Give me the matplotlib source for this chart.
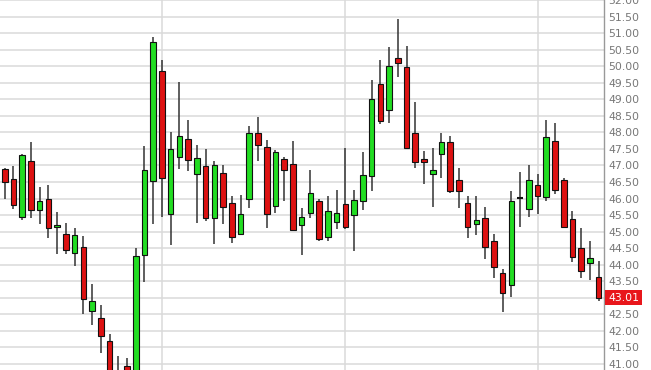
import matplotlib
matplotlib.use("Agg")
import matplotlib.pyplot as plt
import numpy as np

# daily OHLC
opens = [46.89, 46.59, 45.44, 47.14, 45.64, 46.00, 45.14, 44.92, 44.36, 44.54,
         42.59, 42.40, 41.69, 40.70, 40.94, 40.75, 44.29, 46.52, 49.84, 45.54,
         47.27, 47.80, 46.75, 46.99, 45.40, 46.77, 45.88, 44.92, 46.00, 47.97,
         47.57, 45.77, 47.19, 47.04, 45.19, 45.55, 45.94, 44.85, 45.29, 45.84,
         45.49, 45.94, 46.69, 49.47, 48.67, 50.25, 49.99, 47.97, 47.19, 46.74,
         47.34, 47.70, 46.55, 45.87, 45.22, 45.40, 44.72, 43.74, 43.39, 46.02,
         45.67, 46.40, 46.05, 47.74, 46.56, 45.39, 44.50, 44.05, 43.62]
highs = [46.92, 46.99, 47.35, 47.72, 46.34, 46.40, 45.59, 45.26, 45.12, 44.86,
         43.42, 42.77, 41.92, 41.24, 41.17, 44.50, 47.59, 50.89, 50.20, 48.00,
         49.52, 48.37, 47.62, 47.50, 47.15, 47.00, 46.08, 46.12, 48.20, 48.47,
         47.77, 47.47, 47.25, 47.75, 45.72, 46.87, 45.98, 46.07, 46.27, 47.52,
         46.27, 47.42, 49.57, 50.19, 50.59, 51.42, 50.62, 48.92, 47.45, 47.52,
         47.97, 47.90, 46.92, 46.07, 46.07, 45.74, 44.92, 43.87, 46.22, 46.80,
         47.02, 46.74, 48.37, 48.27, 46.62, 45.62, 45.10, 44.72, 44.10]
lows = [45.98, 45.67, 45.34, 45.40, 45.24, 44.82, 44.32, 44.32, 43.97, 42.52,
        42.17, 41.34, 40.50, 40.30, 40.50, 40.60, 43.47, 45.22, 45.44, 44.59,
        46.90, 46.82, 45.27, 45.32, 44.64, 45.22, 44.65, 44.90, 45.72, 47.14,
        45.10, 45.57, 45.92, 45.02, 44.30, 45.42, 44.72, 44.72, 45.07, 45.07,
        44.42, 45.64, 46.22, 48.24, 48.29, 49.67, 47.50, 46.92, 46.44, 45.75,
        46.62, 46.18, 45.70, 44.80, 44.89, 44.17, 43.60, 42.57, 43.02, 45.15,
        45.44, 45.52, 45.94, 46.14, 45.10, 44.09, 43.60, 43.54, 42.90]
closes = [46.49, 45.81, 47.32, 45.64, 45.94, 45.12, 45.21, 44.44, 44.89, 42.96,
          42.89, 41.85, 40.70, 40.50, 40.75, 44.27, 46.85, 50.74, 46.62, 47.50,
          47.90, 47.17, 47.22, 45.42, 47.02, 45.74, 44.85, 45.52, 47.97, 47.62,
          45.52, 47.42, 46.85, 45.05, 45.45, 46.17, 44.79, 45.61, 45.55, 45.14,
          45.95, 46.72, 49.02, 48.35, 50.00, 50.09, 47.54, 47.10, 47.11, 46.85,
          47.71, 46.22, 46.22, 45.15, 45.35, 44.55, 43.94, 43.15, 45.94, 46.02,
          46.56, 46.09, 47.87, 46.26, 45.15, 44.24, 43.82, 44.20, 43.01]
month_starts = [18, 39, 61]
price_ticks = np.arange(41.0, 52.01, 0.5)
last_price = "43.01"

up_col = "#22dd22"
down_col = "#dd1111"

fig = plt.figure(figsize=(6.51, 3.70), dpi=100)
ax = fig.add_axes([0, 0, 604 / 651, 1])

x = np.arange(len(opens))
o = np.array(opens)
c = np.array(closes)

# grid
for t in price_ticks:
    ax.axhline(t, color="#dadada", lw=1.1, zorder=0)
for m in month_starts:
    ax.axvline(m, color="#dadada", lw=1.1, zorder=0)

ax.vlines(x, lows, highs, color="#333333", lw=1.1, zorder=1)

w = 0.64
cols = np.where(c > o, up_col, down_col)
body = np.abs(c - o)
doji = body == 0
ax.bar(x[~doji], body[~doji], bottom=np.minimum(o, c)[~doji], width=w,
       color=cols[~doji], edgecolor="#111111", linewidth=0.8, zorder=2)
ax.hlines(c[doji], x[doji] - w / 2, x[doji] + w / 2, color="#111111", lw=1.5, zorder=2)

ax.set_xlim(-0.54, 68.61)
ax.set_ylim(40.82, 51.92)
ax.set_xticks([])
ax.set_yticks(price_ticks)
ax.set_yticklabels(["%.2f" % t for t in price_ticks])
ax.yaxis.tick_right()
ax.tick_params(axis="y", length=0, pad=3, labelsize=7.8, labelcolor="#777777")
for s in ["top", "left", "bottom"]:
    ax.spines[s].set_visible(False)
ax.spines["right"].set_color("#999999")
ax.spines["right"].set_linewidth(1.0)

ax.annotate(last_price, xy=(1, closes[-1]), xycoords=("axes fraction", "data"),
            xytext=(3, 0), textcoords="offset points", va="center", ha="left",
            fontsize=7.8, color="white",
            bbox=dict(boxstyle="square,pad=0.25", fc="#e8161b", ec="none"))

fig.savefig("out.png", dpi=100)
